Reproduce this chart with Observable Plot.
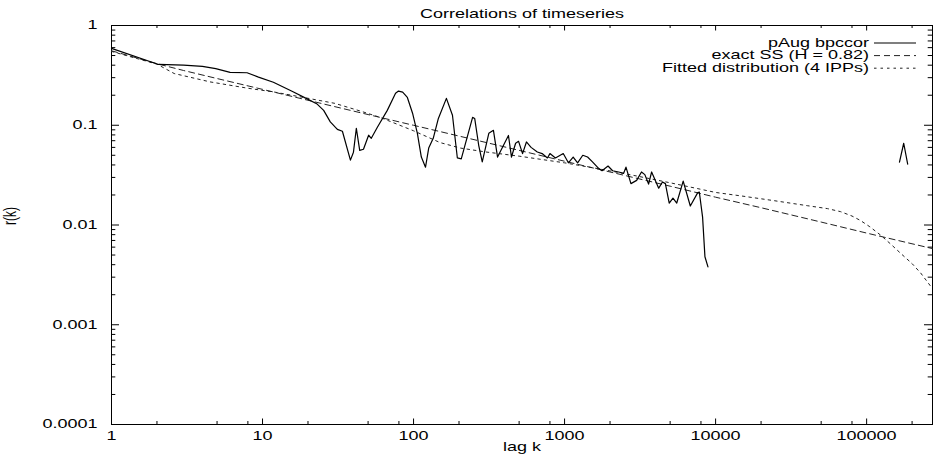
<!DOCTYPE html>
<html><head><meta charset="utf-8">
<script src="https://cdn.jsdelivr.net/npm/d3@7"></script>
<script src="https://cdn.jsdelivr.net/npm/@observablehq/plot@0.6"></script>
<style>html,body{margin:0;padding:0;background:#fff}</style>
</head><body><div id="chart"></div>
<script>
// ---- text ----
const titleText = "Correlations of timeseries";
const xLabelText = "lag k";
const yLabelText = "r(k)";
const seriesNames = ["pAug bpccor", "exact SS (H = 0.82)", "Fitted distribution (4 IPPs)"];

// ---- series: pAug bpccor (null = gap) ----
const pAugLag = [1, 2.05, 3, 4, 4.9, 6.1, 7.9, 9.4, 11.8, 15.8, 19.3, 23, 25.4, 28.1, 31.3, 33.8, 38.2, 40, 41.8, 44, 46.6, 50.4, 52.5, 57.6, 67, 76, 79.5, 84.7, 91, 98.5, 106, 112.6, 120, 126, 135, 146, 165, 181, 195, 207, 246, 254, 270, 285, 315, 338, 360, 425, 445, 474, 496, 527, 559, 600, 660, 710, 770, 800, 870, 980, 1060, 1140, 1220, 1320, 1420, 1530, 1680, 1770, 1940, 2080, 2280, 2460, 2550, 2750, 3000, 3230, 3400, 3600, 3770, 4200, 4450, 4650, 4930, 5220, 5530, 6100, 6800, 7600, 7800, 8200, 8500, 8900, 50000, 165000, 176000, 187000];
const pAugR = [0.59, 0.407, 0.40, 0.39, 0.369, 0.339, 0.336, 0.304, 0.27, 0.218, 0.187, 0.163, 0.141, 0.108, 0.091, 0.087, 0.0447, 0.0537, 0.0933, 0.056, 0.0575, 0.0794, 0.074, 0.0955, 0.141, 0.209, 0.22, 0.215, 0.19, 0.132, 0.083, 0.048, 0.038, 0.059, 0.074, 0.117, 0.186, 0.126, 0.047, 0.046, 0.12, 0.117, 0.063, 0.043, 0.083, 0.089, 0.048, 0.079, 0.048, 0.066, 0.069, 0.052, 0.068, 0.06, 0.054, 0.052, 0.047, 0.052, 0.047, 0.052, 0.042, 0.048, 0.042, 0.05, 0.048, 0.043, 0.037, 0.035, 0.039, 0.035, 0.034, 0.033, 0.038, 0.026, 0.028, 0.034, 0.032, 0.0257, 0.034, 0.0234, 0.027, 0.026, 0.0166, 0.0186, 0.0166, 0.0275, 0.0155, 0.021, 0.0214, 0.012, 0.0048, 0.0038, null, 0.0427, 0.066, 0.0407];

// ---- series: exact SS (H = 0.82) ----
const ssLag = [1, 2, 3, 5, 10, 20, 50, 100, 200, 500, 1000, 2000, 5000, 10000, 20000, 50000, 100000, 273000];
const ssR = [0.558, 0.414, 0.354, 0.294, 0.229, 0.178, 0.128, 0.0999, 0.0779, 0.056, 0.0436, 0.034, 0.0245, 0.019, 0.0149, 0.0107, 0.0083, 0.0058];

// ---- series: Fitted distribution (4 IPPs) ----
const fitLag = [1, 2, 2.6, 4.5, 8, 12, 18, 30, 45, 60, 100, 150, 205, 300, 500, 1000, 1700, 3000, 5000, 10000, 15000, 24000, 40700, 55000, 67300, 80000, 91000, 105000, 124000, 145000, 168000, 200000, 228000, 273000];
const fitR = [0.55, 0.41, 0.33, 0.272, 0.235, 0.215, 0.192, 0.166, 0.138, 0.12, 0.088, 0.067, 0.059, 0.054, 0.049, 0.042, 0.0365, 0.031, 0.0265, 0.0212, 0.0195, 0.0176, 0.0156, 0.0146, 0.0136, 0.0123, 0.0111, 0.0096, 0.0079, 0.0064, 0.0052, 0.0041, 0.0033, 0.0023];

// ---- ticks ----
const xDomain = [1, 273000];
const yDomain = [0.0001, 1];
const xTicks = [1, 10, 100, 1000, 10000, 100000];
const xTickLabels = ["1", "10", "100", "1000", "10000", "100000"];
const xMinorTicks = [2, 5, 8, 20, 50, 80, 200, 500, 800, 2000, 5000, 8000, 20000, 50000, 80000, 200000];
const yTicks = [0.0001, 0.001, 0.01, 0.1, 1];
const yTickLabels = ["0.0001", "0.001", "0.01", "0.1", "1"];
const yDecades = [0.0001, 0.001, 0.01, 0.1];
const yMinorMultipliers = [2, 3, 4, 5, 6, 7, 8, 9];

// ---- build tables ----
const toRows = (ks, rs) => ks.map((k, i) => ({k, r: rs[i] == null ? NaN : rs[i]}));
const pAug = toRows(pAugLag, pAugR);
const ss = toRows(ssLag, ssR);
const fit = toRows(fitLag, fitR);
const yMinorTicks = yDecades.flatMap(d => yMinorMultipliers.map(m => +(d * m).toPrecision(3)));

const W = 933, H = 456, mL = 111, mR = 1, mT = 25, mB = 32;
const fw = W - mL - mR, fh = H - mT - mB;
const FONT = "'Liberation Sans', Arial, Helvetica, sans-serif";
const FS = 12;
const STRETCH = 1.5;
const styles = [
  {stroke: "#000", strokeWidth: 1.2, dash: null},
  {stroke: "#222", strokeWidth: 1, dash: "6,4"},
  {stroke: "#222", strokeWidth: 1, dash: "2.5,4"}
];

const chart = Plot.plot({
  width: W, height: H,
  marginLeft: mL, marginRight: mR, marginTop: mT, marginBottom: mB,
  style: {fontFamily: FONT, fontSize: FS + "px", color: "#000", background: "#fff"},
  x: {type: "log", domain: xDomain, ticks: xTicks, tickFormat: d => xTickLabels[xTicks.indexOf(d)], tickSize: 0, tickPadding: 7, label: null},
  y: {type: "log", domain: yDomain, ticks: yTicks, tickFormat: d => yTickLabels[yTicks.indexOf(d)], tickSize: 0, tickPadding: 14, label: null},
  marks: [
    Plot.frame({stroke: "#000", strokeWidth: 1}),
    // inward major/minor ticks on all four sides
    Plot.tickX(xTicks, {x: d => d, insetTop: fh - 5.5, stroke: "#000"}),
    Plot.tickX(xTicks, {x: d => d, insetBottom: fh - 5.5, stroke: "#000"}),
    Plot.tickX(xMinorTicks, {x: d => d, insetTop: fh - 3, stroke: "#000"}),
    Plot.tickX(xMinorTicks, {x: d => d, insetBottom: fh - 3, stroke: "#000"}),
    Plot.tickY(yTicks, {y: d => d, insetRight: fw - 8, stroke: "#000"}),
    Plot.tickY(yTicks, {y: d => d, insetLeft: fw - 8, stroke: "#000"}),
    Plot.tickY(yMinorTicks, {y: d => d, insetRight: fw - 4.3, stroke: "#000"}),
    Plot.tickY(yMinorTicks, {y: d => d, insetLeft: fw - 4.3, stroke: "#000"}),
    // series
    Plot.line(fit, {x: "k", y: "r", stroke: styles[2].stroke, strokeWidth: styles[2].strokeWidth, strokeDasharray: styles[2].dash}),
    Plot.line(ss, {x: "k", y: "r", stroke: styles[1].stroke, strokeWidth: styles[1].strokeWidth, strokeDasharray: styles[1].dash}),
    Plot.line(pAug, {x: "k", y: "r", stroke: styles[0].stroke, strokeWidth: styles[0].strokeWidth, strokeLinejoin: "round"}),
    // title and axis labels
    Plot.text([titleText], {text: d => d, frameAnchor: "top", dy: -16, fontSize: FS, fill: "#000"}),
    Plot.text([xLabelText], {text: d => d, frameAnchor: "bottom", dy: 26, fontSize: FS, fill: "#000"}),
    Plot.text([yLabelText], {text: d => d, frameAnchor: "left", dx: -101, rotate: -90, fontSize: FS, fill: "#000"})
  ]
});

// ---- legend (top right, inside frame) ----
const svg = d3.select(chart);
const right = W - mR;
const lg = svg.append("g").attr("font-family", FONT).attr("font-size", FS);
seriesNames.forEach((name, i) => {
  const y = mT + 18 + i * 12.6;
  lg.append("text").attr("x", right - 63).attr("y", y).attr("dy", "0.32em")
    .attr("text-anchor", "end").attr("fill", "#000").text(name);
  lg.append("line").attr("x1", right - 58).attr("x2", right - 16).attr("y1", y).attr("y2", y)
    .attr("stroke", styles[i].stroke).attr("stroke-width", styles[i].strokeWidth)
    .attr("stroke-dasharray", styles[i].dash);
});

// ---- stretch all text horizontally (the reference's text is horizontally stretched) ----
chart.querySelectorAll("text").forEach(t => {
  let tr = t.getAttribute("transform") || "";
  const xa = t.getAttribute("x");
  const xn = xa != null && /^-?[\d.]+$/.test(xa) ? +xa : 0;
  if (/rotate\(/.test(tr)) {
    t.setAttribute("transform", tr + ` scale(1,${STRETCH})`);
  } else {
    t.setAttribute("transform", tr + ` translate(${xn},0) scale(${STRETCH},1) translate(${-xn},0)`);
  }
});

document.getElementById("chart").appendChild(chart);
</script>
</body></html>
